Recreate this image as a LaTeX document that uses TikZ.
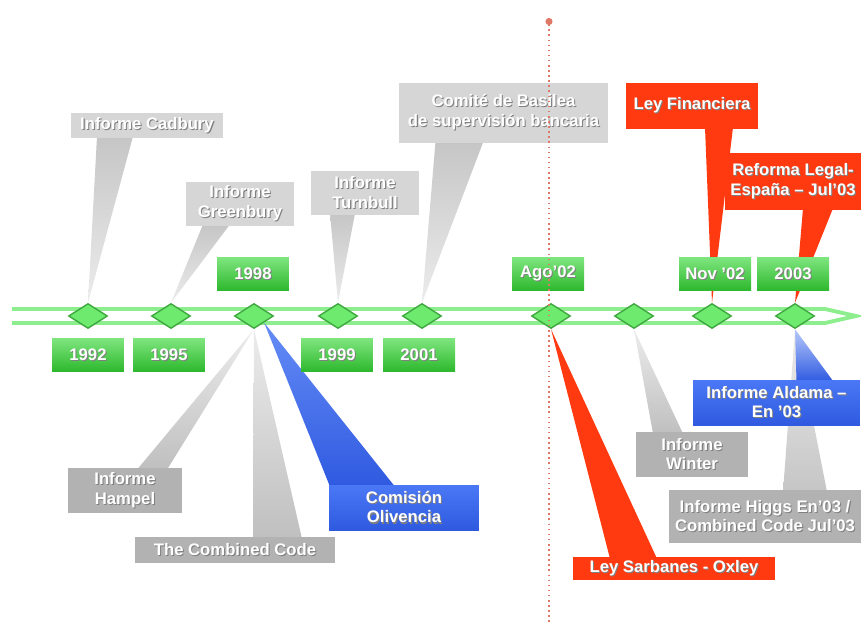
\documentclass[tikz,border=0pt]{standalone}
\usepackage{fontspec}
\setmainfont{Liberation Sans}
\usetikzlibrary{arrows.meta, shapes.geometric, calc, backgrounds}

\definecolor{bandgreen}{HTML}{8CEE8C}
\definecolor{gemfill}{HTML}{6EEA6E}
\definecolor{gemedge}{HTML}{3FA83F}
\definecolor{yeartop}{HTML}{7EE57E}
\definecolor{yearbot}{HTML}{2DB82D}
\definecolor{graylight}{HTML}{D6D6D6}
\definecolor{graydark}{HTML}{B2B2B2}
\definecolor{lawred}{HTML}{FF3A10}
\definecolor{bluetop}{HTML}{4A78F5}
\definecolor{bluebot}{HTML}{2F5AE0}
\definecolor{cutred}{HTML}{E07868}

% white text with a grey drop shadow
\newcommand{\shd}[1]{\makebox[0pt][l]{\kern0.6pt\raisebox{-0.6pt}{\textcolor{black!50}{#1}}}#1}

\begin{document}
\begin{tikzpicture}[x=0.02cm, y=-0.02cm,
    txt/.style={font=\fontsize{9.5}{11.3}\selectfont\bfseries, text=white, align=center, inner sep=0pt},
    yearbox/.style={txt, rectangle, top color=yeartop, bottom color=yearbot, minimum width=1.44cm, minimum height=0.66cm},
    gem/.style={diamond, draw=gemedge, fill=gemfill, line width=0.8pt, minimum width=0.78cm, minimum height=0.5cm, inner sep=0pt},
    lightbox/.style={txt, fill=graylight},
    darkbox/.style={txt, fill=graydark},
    redbox/.style={txt, fill=lawred},
    bluebox/.style={txt, top color=bluetop, bottom color=bluebot},
    band/.style={draw=bandgreen, line width=2.2pt, fill=white},
  ]
  \useasboundingbox (0,0) rectangle (861,625);

  % diamonds on the time line
  \node[gem] (d92) at (88,316) {};
  \node[gem] (d95) at (171,316) {};
  \node[gem] (d98) at (254,316) {};
  \node[gem] (d99) at (338,316) {};
  \node[gem] (d01) at (422,316) {};
  \node[gem] (dago) at (551,316) {};
  \node[gem] (dwin) at (634,316) {};
  \node[gem] (dnov) at (712,316) {};
  \node[gem] (d03) at (795,316) {};

  % years
  \node[yearbox] (y92) at (88,355) {\shd{1992}};
  \node[yearbox] (y95) at (169,355) {\shd{1995}};
  \node[yearbox] (y98) at (253,274) {\shd{1998}};
  \node[yearbox] (y99) at (337,355) {\shd{1999}};
  \node[yearbox] (y01) at (419,355) {\shd{2001}};
  \node[yearbox] (yago) at (548,274) {\shd{Ago'02}};
  \node[yearbox] (ynov) at (715,274) {\shd{Nov '02}};
  \node[yearbox] (y03) at (793,274) {\shd{2003}};

  % callouts above
  \node[lightbox, minimum width=3.04cm, minimum height=0.5cm] (cadbury) at (147,125.5) {\shd{Informe Cadbury}};
  \node[lightbox, minimum width=2.16cm, minimum height=0.88cm] (greenbury) at (240,204) {\shd{Informe}\\\shd{Greenbury}};
  \node[lightbox, minimum width=2.16cm, minimum height=0.88cm] (turnbull) at (365,193) {\shd{Informe}\\\shd{Turnbull}};
  \node[lightbox, minimum width=4.18cm, minimum height=1.2cm] (basilea) at (503.5,113) {\shd{Comité de Basilea}\\\shd{de supervisión bancaria}};
  \node[redbox, minimum width=2.64cm, minimum height=0.92cm] (leyfin) at (692,106) {\shd{Ley Financiera}};
  \node[redbox, minimum width=2.72cm, minimum height=1.14cm] (reforma) at (793,181.5) {\shd{Reforma Legal-}\\\shd{España – Jul'03}};

  % callouts below
  \node[darkbox, minimum width=2.28cm, minimum height=0.9cm] (hampel) at (125,490.5) {\shd{Informe}\\\shd{Hampel}};
  \node[darkbox, minimum width=4cm, minimum height=0.52cm] (combined) at (235,550) {\shd{The Combined Code}};
  \node[bluebox, minimum width=3cm, minimum height=0.9cm] (olivencia) at (404,507.5) {\shd{Comisión}\\\shd{Olivencia}};
  \node[redbox, minimum width=4.04cm, minimum height=0.46cm] (sarbanes) at (674,568.5) {\shd{Ley Sarbanes - Oxley}};
  \node[darkbox, minimum width=2.24cm, minimum height=0.9cm] (winter) at (692,454.5) {\shd{Informe}\\\shd{Winter}};
  \node[darkbox, minimum width=3.84cm, minimum height=1.06cm] (higgs) at (765,516.5) {\shd{Informe Higgs En'03 /}\\\shd{Combined Code Jul'03}};
  \node[bluebox, minimum width=3.34cm, minimum height=0.9cm] (aldama) at (776.5,402.5) {\shd{Informe Aldama –}\\\shd{En '03}};

  \begin{pgfonlayer}{background}
    \draw[band] (12,309) -- (825,309) -- (856,316) -- (825,323) -- (12,323);
    % pointers up
    \shade[top color=gray!45, bottom color=gray!15] (d92.north) -- ($(cadbury.south)+(-50,-2)$) -- ($(cadbury.south)+(-14,-2)$) -- cycle;
    \shade[top color=gray!45, bottom color=gray!15] (d95.north) -- ($(greenbury.south)+(-37,-2)$) -- ($(greenbury.south)+(-10,-2)$) -- cycle;
    \shade[top color=gray!45, bottom color=gray!15] (d99.north) -- ($(turnbull.south)+(-35,-2)$) -- ($(turnbull.south)+(-10,-2)$) -- cycle;
    \shade[top color=gray!45, bottom color=gray!15] (d01.north) -- ($(basilea.south)+(-68,-2)$) -- ($(basilea.south)+(-20,-2)$) -- cycle;
    \fill[lawred] (dnov.north) -- ($(leyfin.south)+(13,-2)$) -- ($(leyfin.south)+(41,-2)$) -- cycle;
    \fill[lawred] (d03.north) -- ($(reforma.south)+(10,-2)$) -- ($(reforma.south)+(40,-2)$) -- cycle;
    % pointers down
    \shade[top color=gray!15, bottom color=gray!50] (d98.south) -- ($(hampel.north)+(12,2)$) -- ($(hampel.north)+(42,2)$) -- cycle;
    \shade[top color=gray!15, bottom color=gray!50] (d98.south) -- ($(combined.north)+(18,2)$) -- ($(combined.north)+(67,2)$) -- cycle;
    \shade[top color=bluetop!85, bottom color=bluebot] (d98.south east) -- ($(olivencia.north)+(-74,2)$) -- ($(olivencia.north)+(-9,2)$) -- cycle;
    \fill[lawred] (dago.south) -- ($(sarbanes.north)+(-64,2)$) -- ($(sarbanes.north)+(-17,2)$) -- cycle;
    \shade[top color=gray!15, bottom color=gray!50] (dwin.south) -- ($(winter.north)+(-39,2)$) -- ($(winter.north)+(-9,2)$) -- cycle;
    \shade[top color=gray!15, bottom color=gray!45] (d03.south) -- ($(higgs.north)+(18,2)$) -- ($(higgs.north)+(62,2)$) -- cycle;
    \shade[top color=bluetop!40, bottom color=bluebot] (d03.south) -- ($(aldama.north)+(20,2)$) -- ($(aldama.north)+(57,2)$) -- cycle;
  \end{pgfonlayer}

  % cut-off line
  \coordinate (cuttop) at (549,18);
  \coordinate (cutbot) at (549,625);
  \draw[cutred, dotted, line width=0.9pt, {Circle[length=4pt]}-] (cuttop) -- (cutbot);
\end{tikzpicture}
\end{document}
